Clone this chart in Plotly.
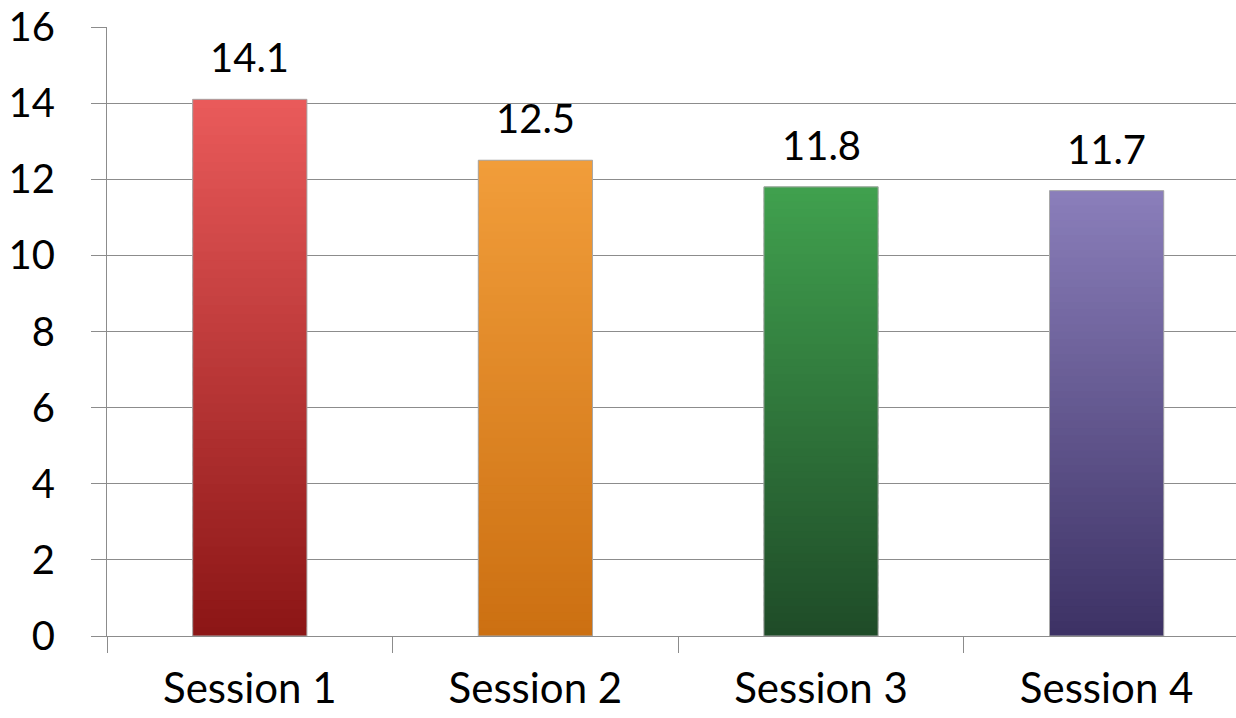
import plotly.graph_objects as go

categories = ["Session 1", "Session 2", "Session 3", "Session 4"]
values = [14.1, 12.5, 11.8, 11.7]
value_labels = ["14.1", "12.5", "11.8", "11.7"]
top_colors = ["#E95A5A", "#F19D3A", "#40A04E", "#8A7EBA"]
bottom_colors = ["#8C1616", "#CC7012", "#1F4C28", "#3D3265"]
y_ticks = [0, 2, 4, 6, 8, 10, 12, 14, 16]

FONT = "Lato, 'Open Sans', sans-serif"
N = 60


def hex_to_rgb(h):
    h = h.lstrip("#")
    return tuple(int(h[i:i + 2], 16) for i in (0, 2, 4))


def mix(c1, c2, t):
    a, b = hex_to_rgb(c1), hex_to_rgb(c2)
    return "rgb(%d,%d,%d)" % tuple(round(a[i] + (b[i] - a[i]) * t) for i in range(3))


fig = go.Figure()

# gradient bars built as overlapping slices (bottom dark -> top light)
for k in range(N):
    t = k / (N - 1)
    fig.add_trace(go.Bar(
        x=categories,
        y=[min(v / N * 2.5, v - v * k / N) for v in values],
        base=[v * k / N for v in values],
        width=0.4,
        marker=dict(color=[mix(bc, tc, t) for bc, tc in zip(bottom_colors, top_colors)],
                    line=dict(width=0)),
        showlegend=False,
        hoverinfo="skip",
    ))

# outline
fig.add_trace(go.Bar(
    x=categories,
    y=values,
    width=0.4,
    marker=dict(color="rgba(0,0,0,0)", line=dict(color="#A8A8A8", width=1)),
    showlegend=False,
    hovertemplate="%{x}: %{y}<extra></extra>",
))

for c, v, lab in zip(categories, values, value_labels):
    fig.add_annotation(
        x=c, y=v, text=lab, showarrow=False,
        yanchor="bottom", yshift=16,
        font=dict(family=FONT, size=40, color="#000000"),
    )

fig.update_layout(
    width=1236, height=718, autosize=False,
    margin=dict(l=107, r=0, t=27, b=82),
    barmode="overlay",
    plot_bgcolor="white", paper_bgcolor="white",
    font=dict(family=FONT, size=40, color="#000000"),
    showlegend=False,
)

fig.update_xaxes(
    type="category",
    range=[-0.5, 3.453],
    automargin=False,
    showline=True, linecolor="#8C8C8C", linewidth=1,
    ticks="outside", tickson="boundaries", ticklen=16, tickcolor="#8C8C8C", tickwidth=1,
    showgrid=False,
    tickfont=dict(family=FONT, size=42, color="#000000"),
    ticklabelstandoff=16,
)

fig.update_yaxes(
    range=[0, 16],
    tickvals=y_ticks,
    automargin=False,
    showline=True, linecolor="#8C8C8C", linewidth=1,
    ticks="outside", ticklen=15, tickcolor="#8C8C8C", tickwidth=1,
    showgrid=True, gridcolor="#8C8C8C", gridwidth=1,
    zeroline=False,
    tickfont=dict(family=FONT, size=40, color="#000000"),
    ticklabelstandoff=28,
)

fig.write_html("out.html")
